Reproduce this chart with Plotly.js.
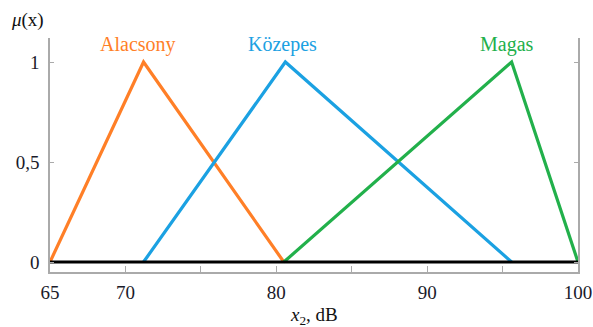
<!DOCTYPE html>
<html>
<head>
<meta charset="utf-8">
<script src="https://cdn.plot.ly/plotly-3.0.1.min.js"></script>
<style>
  html, body { margin: 0; padding: 0; background: #fff; }
  #chart { width: 593px; height: 327px; }
</style>
</head>
<body>
<div id="chart"></div>
<script>
// Membership functions (x in dB, mu)
const alacsonyX = [65, 71.2, 80.5];
const alacsonyY = [0, 1, 0];
const kozepesX = [71.2, 80.6, 95.6];
const kozepesY = [0, 1, 0];
const magasX = [80.5, 95.6, 100];
const magasY = [0, 1, 0];
const baseX = [65, 100];
const baseY = [0, 0];

const seriesNames = ['Alacsony', 'Közepes', 'Magas'];
const labelX = [70.8, 80.4, 95.3];
const labelY = [1.09, 1.09, 1.09];

const xTickVals = [65, 70, 75, 80, 85, 90, 95, 100];
const xTickText = ['65', '70', '', '80', '', '90', '', '100'];
const yTickVals = [0, 0.5, 1];
const yTickText = ['0', '0,5', '1'];

const colors = ['#FF7F27', '#1BA1E2', '#22B04B'];
const FONT = 'Liberation Serif';

const traces = [
  {x: alacsonyX, y: alacsonyY, name: seriesNames[0]},
  {x: kozepesX, y: kozepesY, name: seriesNames[1]},
  {x: magasX, y: magasY, name: seriesNames[2]}
].map((t, i) => Object.assign(t, {
  type: 'scatter', mode: 'lines',
  line: {color: colors[i], width: 3.2},
  hoverinfo: 'skip'
}));
traces.push({x: baseX, y: baseY, type: 'scatter', mode: 'lines',
  line: {color: '#000', width: 3}, hoverinfo: 'skip'});

const annotations = seriesNames.map((n, i) => ({
  x: labelX[i], y: labelY[i], xref: 'x', yref: 'y', text: n,
  showarrow: false, font: {family: FONT, size: 20, color: colors[i]},
  xanchor: 'center', yanchor: 'middle'
}));
annotations.push({
  x: -0.042, y: 1.077, xref: 'paper', yref: 'paper',
  text: '<i>μ</i>(x)', showarrow: false,
  font: {family: FONT, size: 19, color: '#111'},
  xanchor: 'center', yanchor: 'middle'
});
annotations.push({
  x: 0.5, y: -0.19, xref: 'paper', yref: 'paper',
  text: '<i>x</i><sub>2</sub>, dB', showarrow: false,
  font: {family: FONT, size: 19, color: '#111'},
  xanchor: 'center', yanchor: 'middle'
});

const layout = {
  width: 593, height: 327,
  margin: {l: 50, r: 15, t: 38, b: 55},
  paper_bgcolor: '#fff', plot_bgcolor: '#fff',
  font: {family: FONT, size: 18, color: '#1a1a2a'},
  showlegend: false,
  xaxis: {
    range: [65, 100], tickmode: 'array', tickvals: xTickVals, ticktext: xTickText,
    ticks: 'inside', ticklen: 6, tickcolor: '#aaa', tickwidth: 1,
    showline: true, linecolor: '#aaa', linewidth: 1.5, mirror: false,
    showgrid: false, zeroline: false,
    tickfont: {family: FONT, size: 19, color: '#1a1a2a'},
    ticklabelstandoff: 2
  },
  yaxis: {
    range: [-0.05, 1.12], tickmode: 'array', tickvals: yTickVals, ticktext: yTickText,
    ticks: 'inside', ticklen: 4, tickcolor: '#aaa', tickwidth: 1,
    showline: true, linecolor: '#aaa', linewidth: 1.5, mirror: 'ticks',
    showgrid: false, zeroline: false,
    tickfont: {family: FONT, size: 19, color: '#1a1a2a'},
    ticklabelstandoff: 5
  },
  annotations: annotations
};

function forceSerif() {
  document.querySelectorAll('#chart text, #chart tspan').forEach(el => {
    el.style.setProperty('font-family', "'Liberation Serif', serif", 'important');
  });
}

Plotly.newPlot('chart', traces, layout, {displayModeBar: false}).then(gd => {
  forceSerif();
  gd.on('plotly_afterplot', forceSerif);
});
</script>
</body>
</html>
